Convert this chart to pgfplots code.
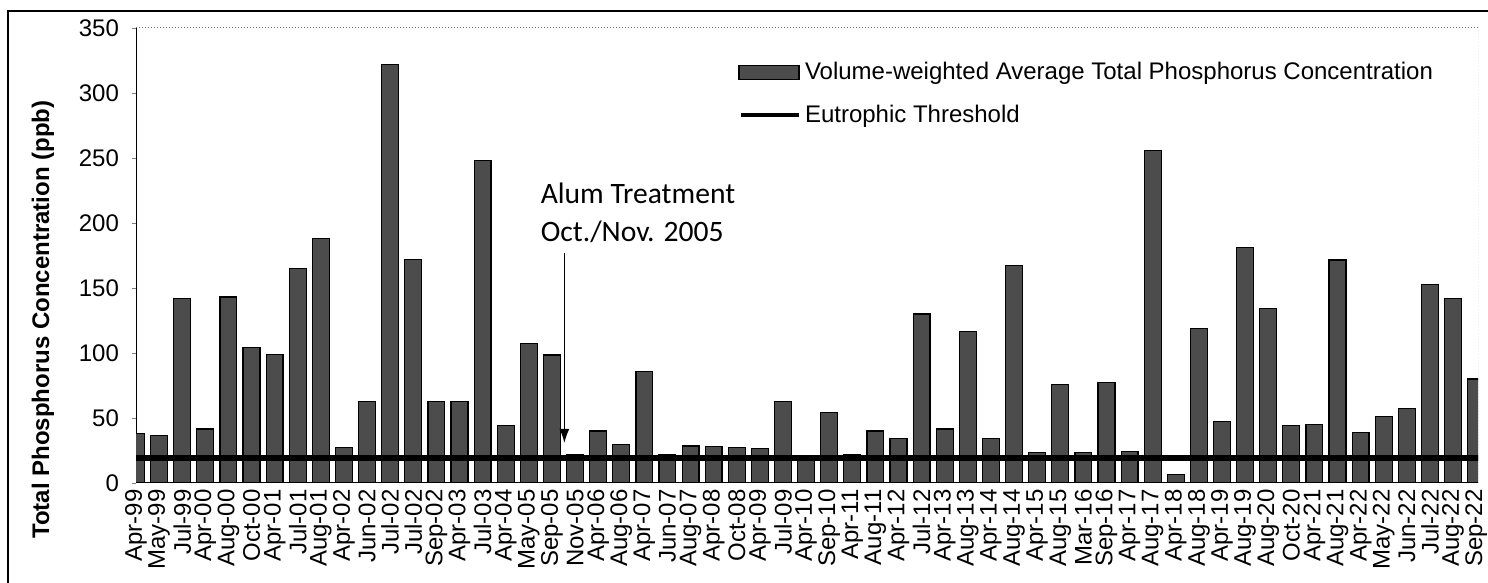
\documentclass[border=0pt]{standalone}
\usepackage{pgfplots}
\pgfplotsset{compat=1.18}
\usepackage{pgfplotstable}
\usepackage{fontspec}
\setmainfont{Liberation Sans}
\newfontfamily\carlito{Carlito}
\usetikzlibrary{arrows.meta}
\pgfplotstableread{
x v
0 38
1 36.5
2 142
3 41.5
4 143
5 104
6 99
7 165
8 188
9 27
10 62.5
11 322
12 172
13 62.5
14 62.5
15 248
16 44
17 107
18 98.5
19 22
20 40
21 29.5
22 85.5
23 22
24 28.5
25 28
26 27
27 26.5
28 62.5
29 21
30 54.5
31 21.5
32 40
33 34
34 130
35 41.5
36 116.5
37 34
38 167
39 23.5
40 75.5
41 23.5
42 77.5
43 24
44 256
45 6.7
46 119
47 47
48 181
49 134.5
50 44
51 45
52 171.5
53 39
54 51
55 57.5
56 152.5
57 142
58 80
}\tpdata
\begin{document}
\begin{tikzpicture}
\useasboundingbox (-68pt,-50pt) rectangle (676pt,241.5pt);
\clip (-68pt,-50pt) rectangle (676pt,241.5pt);
\draw[black, line width=0.8pt] (-64pt,-120pt) rectangle (800pt,236pt);
\begin{axis}[
  at={(0,0)}, anchor=south west,
  width=671pt, height=227.5pt, scale only axis,
  xmin=0, xmax=58.08, ymin=0, ymax=350,
  axis x line*=bottom, axis y line*=left,
  axis line style={line width=0.5pt},
  xtick={0,...,58},
  xticklabels={Apr-99,May-99,Jul-99,Apr-00,Aug-00,Oct-00,Apr-01,Jul-01,Aug-01,Apr-02,Jun-02,Jul-02,Jul-02,Sep-02,Apr-03,Jul-03,Apr-04,May-05,Sep-05,Nov-05,Apr-06,Aug-06,Apr-07,Jun-07,Aug-07,Apr-08,Oct-08,Apr-09,Jul-09,Apr-10,Sep-10,Apr-11,Aug-11,Apr-12,Jul-12,Apr-13,Aug-13,Apr-14,Aug-14,Apr-15,Aug-15,Mar-16,Sep-16,Apr-17,Aug-17,Apr-18,Aug-18,Apr-19,Aug-19,Aug-20,Oct-20,Apr-21,Aug-21,Apr-22,May-22,Jun-22,Jul-22,Aug-22,Sep-22},
  x tick label style={rotate=90, anchor=east, font=\fontsize{12}{14}\selectfont, inner sep=1pt},
  major x tick style={draw=none},
  ytick={0,50,...,350},
  y tick label style={font=\fontsize{12}{14}\selectfont, xshift=-3pt},
  /pgf/number format/assume math mode=true,
  tick align=outside, major tick length=2pt,
  ylabel={\bfseries Total Phosphorus Concentration (ppb)},
  ylabel style={at={(rel axis cs:-0.0693,0.359)}, anchor=center, font=\fontsize{12}{14}\selectfont},
  legend style={draw=none, fill=none, at={(rel axis cs:0.4486,0.934)}, anchor=north west,
    font=\fontsize{12}{14}\selectfont, row sep=7pt, inner sep=0pt},
  legend cell align=left,
  clip=true,
]
\addplot[ybar, bar width=0.73, fill=black!70, draw=black, line width=0.6pt,
  legend image code/.code={\draw[fill=black!70, draw=black] (0pt,-3.5pt) rectangle (30pt,3.5pt);}]
  table[x=x, y=v] {\tpdata};
\addlegendentry{Volume-weighted Average Total Phosphorus Concentration}
\addplot[black, line width=3pt,
  legend image code/.code={\draw[black, line width=2pt] (1pt,0pt) -- (30pt,0pt);}]
  coordinates {(-1,19) (60,19)};
\addlegendentry{Eutrophic Threshold}
\draw[black!55, densely dotted, line width=0.5pt] (rel axis cs:0,1) -- (rel axis cs:1,1) -- (rel axis cs:1,0);
\node[anchor=base west, font=\carlito\fontsize{14.8}{17}\selectfont, inner sep=0pt] at (axis cs:17.5,215) {Alum Treatment};
\node[anchor=base west, font=\carlito\fontsize{14.8}{17}\selectfont, inner sep=0pt] at (axis cs:17.5,186) {Oct./Nov. 2005};
\draw[-{Latex[length=7pt,width=5pt]}, line width=0.7pt] (axis cs:18.54,177) -- (axis cs:18.54,30.8);
\end{axis}
\end{tikzpicture}
\end{document}
